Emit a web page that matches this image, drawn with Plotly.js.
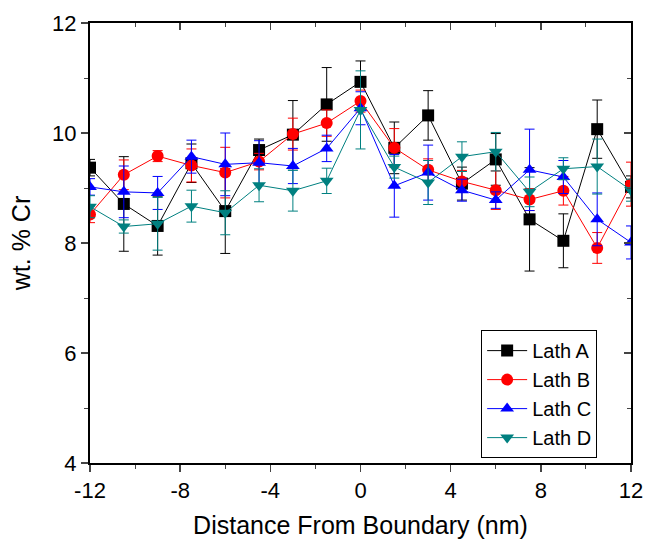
<!DOCTYPE html>
<html><head><meta charset="utf-8">
<script src="https://cdn.plot.ly/plotly-3.0.1.min.js"></script>
<style>body{margin:0;background:#fff}#c{width:647px;height:539px}</style>
</head><body><div id="c"></div>
<script>
const xPos = [-12,-10.5,-9,-7.5,-6,-4.5,-3,-1.5,0,1.5,3,4.5,6,7.5,9,10.5,12];
const lathA = [9.37,8.71,8.31,9.45,8.58,9.69,9.97,10.52,10.93,9.73,10.32,9.08,9.52,8.43,8.04,10.07,9.02];
const errA  = [0.15,0.86,0.53,0.35,0.77,0.2,0.62,0.67,0.38,0.47,0.45,0.3,0.47,0.94,0.49,0.53,0.2];
const lathB = [8.52,9.24,9.58,9.41,9.28,9.48,9.98,10.18,10.58,9.73,9.33,9.12,8.96,8.79,8.95,7.91,9.07];
const errB  = [0.15,0.27,0.1,0.3,0.46,0.15,0.29,0.24,0.2,0.35,0.2,0.2,0.35,0.2,0.26,0.28,0.4];
const lathC = [9.02,8.93,8.91,9.57,9.43,9.46,9.40,9.72,10.45,9.04,9.28,8.96,8.78,9.33,9.20,8.43,8.01];
const errC  = [0.15,0.47,0.3,0.3,0.57,0.4,0.32,0.24,0.3,0.57,0.5,0.2,0.15,0.74,0.3,0.48,0.3];
const lathD = [8.66,8.30,8.35,8.67,8.55,9.05,8.95,9.13,10.42,9.38,9.10,9.57,9.66,8.93,9.35,9.39,8.96];
const errD  = [0.2,0.12,0.48,0.29,0.4,0.3,0.37,0.23,0.71,0.2,0.4,0.27,0.35,0.27,0.2,0.5,0.2];
const xTickVals = [-12,-8,-4,0,4,8,12];
const xTickText = ["-12","-8","-4","0","4","8","12"];
const yTickVals = [4,6,8,10,12];
const yTickText = ["4","6","8","10","12"];
const names = ["Lath A","Lath B","Lath C","Lath D"];
const colors = ["#000000","#ff0000","#0000ff","#008080"];
const symbols = ["square","circle","triangle-up","triangle-down"];
const ys = [lathA,lathB,lathC,lathD];
const errs = [errA,errB,errC,errD];
const traces = ys.map((y,i)=>({
  x: xPos, y: y, name: names[i], type:'scatter', mode:'lines+markers',
  line:{color:colors[i], width:1},
  marker:{color:colors[i], symbol:symbols[i], size:12},
  error_y:{type:'data', array:errs[i], visible:true, color:colors[i], thickness:1, width:5}
}));
const font = "Liberation Sans, Arial, sans-serif";
const layout = {
  width:647, height:539,
  margin:{l:90, r:16, t:23, b:76},
  paper_bgcolor:'#fff', plot_bgcolor:'#fff',
  font:{family:font, color:'#000'},
  showlegend:true,
  legend:{x:0.723, y:0.302, xanchor:'left', yanchor:'top', bordercolor:'#000', borderwidth:1,
    bgcolor:'#fff', font:{size:20, family:font}, tracegroupgap:0, itemwidth:40},
  xaxis:{range:[-12,12], tickvals:xTickVals, ticktext:xTickText, ticks:'outside', ticklen:7, tickwidth:1.5,
    showgrid:false, zeroline:false, showline:true, linewidth:2, linecolor:'#000', mirror:true,
    tickfont:{size:22}, title:{text:'Distance From Boundary (nm)', font:{size:25}, standoff:18},
    minor:{dtick:2, tick0:0, ticks:'outside', ticklen:4, tickwidth:1, showgrid:false}},
  yaxis:{range:[4,12], tickvals:yTickVals, ticktext:yTickText, ticks:'outside', ticklen:7, tickwidth:1.5,
    showgrid:false, zeroline:false, showline:true, linewidth:2, linecolor:'#000', mirror:true,
    tickfont:{size:22}, title:{text:'wt. % Cr', font:{size:25}, standoff:14},
    minor:{dtick:1, tick0:0, ticks:'outside', ticklen:4, tickwidth:1, showgrid:false}},
  xaxis2:{overlaying:'x', side:'top', range:[-12,12], tickvals:xTickVals, ticks:'inside',
    ticklen:7, tickwidth:1.5, showticklabels:false, showgrid:false, zeroline:false,
    minor:{dtick:2, tick0:0, ticks:'inside', ticklen:4, tickwidth:1, showgrid:false}},
  yaxis2:{overlaying:'y', side:'right', range:[4,12], tickvals:yTickVals, ticks:'inside',
    ticklen:7, tickwidth:1.5, showticklabels:false, showgrid:false, zeroline:false,
    minor:{dtick:1, tick0:0, ticks:'inside', ticklen:4, tickwidth:1, showgrid:false}}
};
traces.push({x:[0], y:[0], xaxis:'x2', yaxis:'y2', showlegend:false, hoverinfo:'skip', mode:'markers', marker:{opacity:0}});
Plotly.newPlot('c', traces, layout, {displayModeBar:false, staticPlot:true});
</script></body></html>
